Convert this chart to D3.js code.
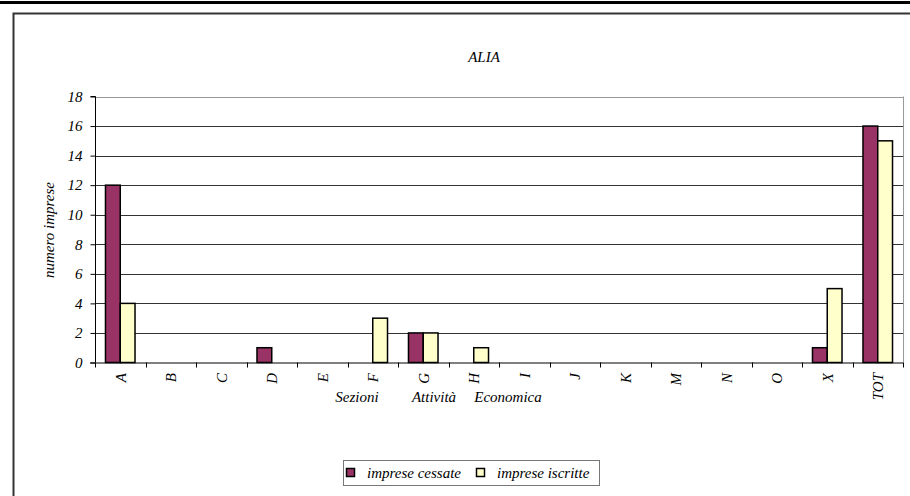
<!DOCTYPE html>
<html>
<head>
<meta charset="utf-8">
<script src="https://cdn.jsdelivr.net/npm/d3@7"></script>
<style>
  body { margin: 0; background: #fff; }
  svg { display: block; }
  svg text { font-family: "Liberation Serif", "Times New Roman", "DejaVu Serif", serif !important; font-style: italic; fill: #000; }
</style>
</head>
<body>
<svg id="chart" width="910" height="496"></svg>
<script>
const categories = ["A","B","C","D","E","F","G","H","I","J","K","M","N","O","X","TOT"];
const cessate   = [12,0,0,1,0,0,2,0,0,0,0,0,0,0,1,16];
const iscritte  = [4,0,0,0,0,3,2,1,0,0,0,0,0,0,5,15];
const seriesNames = ["imprese cessate","imprese iscritte"];
const seriesColors = ["#993366","#FFFFCC"];
const yTicks = [0,2,4,6,8,10,12,14,16,18];
const titleText = "ALIA";
const yTitle = "numero imprese";
const xTitleWords = ["Sezioni","Attività","Economica"];

const svg = d3.select("#chart");
const W = 910, H = 496;
const FS = "15px";

// top rule
svg.append("rect").attr("x",0).attr("y",1).attr("width",W).attr("height",3).attr("fill","#000");
// chart border
svg.append("rect").attr("x",13.5).attr("y",13.5).attr("width",W).attr("height",H)
  .attr("fill","none").attr("stroke","#333").attr("stroke-width",2);

const plot = {left:95, right:903, top:96.5, bottom:362.5};
const x = d3.scaleBand().domain(categories).range([plot.left, plot.right]).paddingInner(0).paddingOuter(0);
const y = d3.scaleLinear().domain([0,18]).range([plot.bottom, plot.top]);
const xs = d3.scaleBand().domain([0,1]).range([0, x.bandwidth()]).paddingInner(0).paddingOuter(0.71);

// gridlines
svg.append("g").selectAll("line").data(yTicks.filter(d=>d>0)).join("line")
  .attr("x1",plot.left).attr("x2",plot.right)
  .attr("y1",d=>Math.round(y(d))+0.5).attr("y2",d=>Math.round(y(d))+0.5)
  .attr("stroke",d=>d===18?"#999":"#333").attr("stroke-width",1);
// right plot edge
svg.append("line").attr("x1",plot.right+0.5).attr("x2",plot.right+0.5)
  .attr("y1",plot.top).attr("y2",plot.bottom).attr("stroke","#999");

// bars
const data = categories.map((c,i)=>({c, v:[cessate[i], iscritte[i]]}));
const groups = svg.append("g").selectAll("g").data(data).join("g")
  .attr("transform",d=>`translate(${x(d.c)},0)`);
groups.selectAll("rect").data(d=>d.v.map((v,k)=>({v,k}))).join("rect")
  .filter(d=>d.v>0)
  .attr("x",d=>xs(d.k)).attr("width",xs.bandwidth())
  .attr("y",d=>y(d.v)).attr("height",d=>y(0)-y(d.v))
  .attr("fill",d=>seriesColors[d.k]).attr("stroke","#000").attr("stroke-width",1.5);

// y axis
const yAxis = d3.axisLeft(y).tickValues(yTicks).tickSize(5).tickPadding(8);
const gy = svg.append("g").attr("transform",`translate(${plot.left+0.5},0)`).call(yAxis);
gy.attr("font-family",null).attr("font-size",null);
gy.select(".domain").attr("stroke","#000").attr("d",`M-5,${plot.top}H0V${plot.bottom}`);
gy.selectAll(".tick line").attr("stroke","#000");
gy.selectAll(".tick text").style("font-size",FS).attr("fill","#000");

// x axis
const xAxis = d3.axisBottom(x).tickSize(0).tickFormat(d=>d);
const gx = svg.append("g").attr("transform",`translate(0,${plot.bottom+0.5})`).call(xAxis);
gx.attr("font-family",null).attr("font-size",null);
gx.select(".domain").attr("stroke","#000").attr("d",`M${plot.left-5},0H${plot.right}`);
gx.selectAll(".tick text")
  .attr("transform","translate(0,10) rotate(-90)")
  .attr("x",0).attr("y",0).attr("dy","0.35em")
  .attr("text-anchor","end")
  .style("font-size",FS).attr("fill","#000");
// tick marks at band boundaries
svg.append("g").selectAll("line").data(categories.concat(["__end"])).join("line")
  .attr("x1",(d,i)=>Math.round(plot.left + i*x.bandwidth())+0.5)
  .attr("x2",(d,i)=>Math.round(plot.left + i*x.bandwidth())+0.5)
  .attr("y1",plot.bottom).attr("y2",plot.bottom+5).attr("stroke","#000");

// title
svg.append("text").attr("x",484).attr("y",62).attr("text-anchor","middle")
  .style("font-size",FS).text(titleText);
// y title
svg.append("text").attr("transform","translate(54,230) rotate(-90)").attr("text-anchor","middle")
  .style("font-size",FS).text(yTitle);
// x title
const xtPos = [357, 434, 508];
svg.append("g").selectAll("text").data(xTitleWords).join("text")
  .attr("x",(d,i)=>xtPos[i]).attr("y",402).attr("text-anchor","middle")
  .style("font-size",FS).text(d=>d);

// legend
const lg = svg.append("g").attr("transform","translate(343,460)");
lg.append("rect").attr("x",0.5).attr("y",0.5).attr("width",256).attr("height",25)
  .attr("fill","#fff").attr("stroke","#777");
const lx = [3, 133];
seriesNames.forEach((n,i)=>{
  lg.append("rect").attr("x",lx[i]+0.5).attr("y",8.5).attr("width",8).attr("height",8)
    .attr("fill",seriesColors[i]).attr("stroke","#000").attr("stroke-width",1.5);
  lg.append("text").attr("x",lx[i]+21).attr("y",17.5).style("font-size",FS).text(n);
});
</script>
</body>
</html>
